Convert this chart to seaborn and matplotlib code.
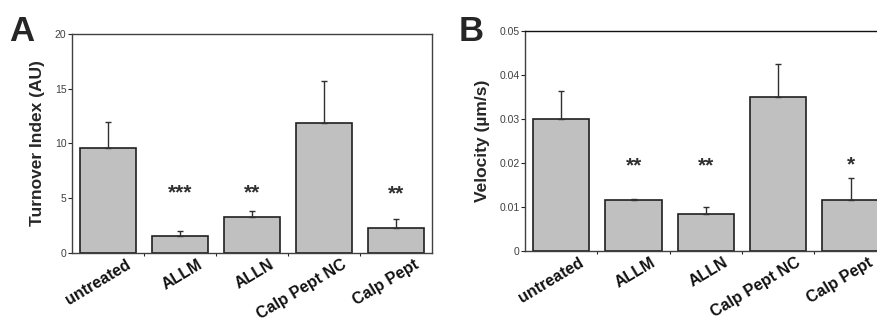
import numpy as np
import pandas as pd
import matplotlib.pyplot as plt
import seaborn as sns
from matplotlib.transforms import ScaledTranslation

# --- data ---
groups = ['untreated', 'ALLM', 'ALLN', 'Calp Pept NC', 'Calp Pept']

turnover = [9.6, 1.5, 3.3, 11.9, 2.3]
turnover_err = [2.4, 0.5, 0.55, 3.8, 0.8]
turnover_stars = ['', '***', '**', '', '**']
turnover_star_y = [0, 4.6, 4.6, 0, 4.5]
turnover_ticks = [0, 5, 10, 15, 20]
turnover_ticklabels = ['0', '5', '10', '15', '20']

velocity = [0.0300, 0.0115, 0.0083, 0.0350, 0.0115]
velocity_err = [0.0063, 0.0004, 0.0017, 0.0075, 0.0052]
velocity_stars = ['', '**', '**', '', '*']
velocity_star_y = [0, 0.0172, 0.0172, 0, 0.0174]
velocity_ticks = [0, 0.01, 0.02, 0.03, 0.04, 0.05]
velocity_ticklabels = ['0', '0.01', '0.02', '0.03', '0.04', '0.05']

sns.set_style('white')
plt.rcParams['font.family'] = ['Liberation Sans', 'DejaVu Sans']

fig = plt.figure(figsize=(8.78, 3.23), dpi=100)
axA = fig.add_axes([0.082, 0.217, 0.410, 0.678])
axB = fig.add_axes([0.598, 0.223, 0.412, 0.681])


def draw_panel(ax, vals, errs, stars, star_y, ticks, ticklabels, ylim, ylabel, letter, lx):
    df = pd.DataFrame({'group': groups, 'value': vals})
    sns.barplot(data=df, x='group', y='value', color='#c0c0c0', saturation=1,
                width=0.78, edgecolor='#202020', linewidth=1.2, ax=ax)
    x = np.arange(len(groups))
    ax.errorbar(x, vals, yerr=[np.zeros(len(errs)), errs], fmt='none',
                ecolor='#303030', elinewidth=1.0, capsize=2, capthick=1.0)
    for i, s in enumerate(stars):
        if s:
            ax.text(i, star_y[i], s, ha='center', va='bottom', fontsize=15,
                    fontweight='bold', color='#303030')
    ax.set_xlim(-0.5, len(groups) - 0.5)
    ax.set_ylim(*ylim)
    ax.set_yticks(ticks)
    ax.set_yticklabels(ticklabels, fontsize=7.5, color='#404040')
    ax.set_xticks(x[:-1] + 0.5, minor=True)
    ax.tick_params(axis='x', which='major', length=0, pad=3)
    ax.tick_params(axis='x', which='minor', length=2, width=0.8, direction='out', bottom=True)
    ax.tick_params(axis='y', length=3, width=0.8, direction='out', left=True, pad=1)
    ax.set_xticks(x)
    ax.set_xticklabels(groups, rotation=31, ha='right', fontsize=11.5,
                       fontweight='bold', color='#111111')
    for lab in ax.get_xticklabels():
        lab.set_transform(lab.get_transform() + ScaledTranslation(0.25, 0, fig.dpi_scale_trans))
    ax.set_xlabel('')
    ax.set_ylabel(ylabel, fontsize=12.5, fontweight='bold', labelpad=7)
    for sp in ax.spines.values():
        sp.set_linewidth(1.0)
        sp.set_color('#404040')
    ax.text(lx, 0.955, letter, transform=fig.transFigure, fontsize=25,
            fontweight='bold', va='top', ha='left')


draw_panel(axA, turnover, turnover_err, turnover_stars, turnover_star_y,
           turnover_ticks, turnover_ticklabels, (0, 20), 'Turnover Index (AU)', 'A', 0.010)
draw_panel(axB, velocity, velocity_err, velocity_stars, velocity_star_y,
           velocity_ticks, velocity_ticklabels, (0, 0.05), 'Velocity (µm/s)', 'B', 0.522)
axB.spines['top'].set_color('#111111')

fig.savefig('out.png', dpi=100)
